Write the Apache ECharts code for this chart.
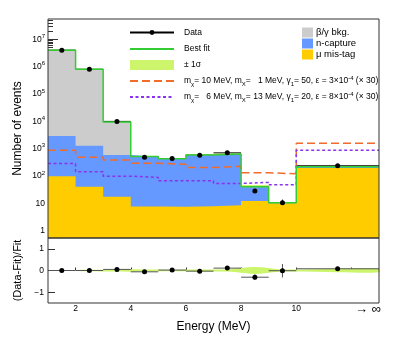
<!DOCTYPE html>
<html>
<head>
<meta charset="utf-8">
<script src="https://cdn.jsdelivr.net/npm/echarts@6/dist/echarts.min.js"></script>
<style>
html, body { margin: 0; padding: 0; background: #fff; }
#chart { width: 399px; height: 338px; }
</style>
</head>
<body>
<div id="chart"></div>
<script>
// bin edges in MeV, the last bin (10 -> inf) is drawn as 10-13
const binEdges = [1, 2, 3, 4, 5, 6, 7, 8, 9, 10, 13];
const binCenters = [1.5, 2.5, 3.5, 4.5, 5.5, 6.5, 7.5, 8.5, 9.5, 11.5];

const dataCounts = [4.0e6, 8.0e5, 1.0e4, 490, 440, 580, 710, 28.4, 10.6, 240];
const dataErr = [2000, 900, 100, 22, 21, 24, 27, 5.3, 3.3, 15];
const bestFit = [4.0e6, 8.0e5, 9500, 520, 432, 598, 640, 41, 10.7, 222];
const fitRelErr = [0.02, 0.03, 0.05, 0.05, 0.04, 0.05, 0.05, 0.16, 0.05, 0.08];

// background components (stacked)
const betaGamma = [3.997e6, 7.987e5, 8900, 12, 8, 10, 12, 2, 0.3, 7];
const nCapture = [2850, 1260, 580, 500, 416, 580, 619, 26.7, 0.2, 15];
const muMisTag = [100, 41, 17.6, 7.8, 7.6, 8, 8.7, 12.3, 10.2, 200];

// signal models (x 30)
const signalA = [880, 488, 388, 295, 270, 209, 228, 133, 122, 1585];
const signalB = [290, 145, 100, 90, 68, 68, 54, 59, 48, 880];

// lower panel
const ratio = [0, 0, 0.05, -0.06, 0.02, -0.03, 0.11, -0.31, -0.01, 0.08];
const ratioErr = [0.001, 0.001, 0.01, 0.045, 0.05, 0.04, 0.04, 0.13, 0.31, 0.065];

const logTicks = [1, 10, 1e2, 1e3, 1e4, 1e5, 1e6, 1e7];
const ratioTicks = [-1, 0, 1];
const energyTicks = [2, 4, 6, 8, 10, 12];
const energyLabels = [2, 4, 6, 8, 10, 12.6];

const sigAName = 'mχ= 10 MeV, mX=  1 MeV, γ₁= 50, ε = 3×10⁻⁴ (× 30)';
const sigBName = 'mχ=  6 MeV, mX= 13 MeV, γ₁= 20, ε = 8×10⁻⁴ (× 30)';
const legendRich = {};
legendRich[sigAName] = 'm{s|χ}= 10 MeV, m{s|X}=   1 MeV, γ{s|1}= 50, ε = 3×10{p|-4} (× 30)';
legendRich[sigBName] = 'm{s|χ}=   6 MeV, m{s|X}= 13 MeV, γ{s|1}= 20, ε = 8×10{p|-4} (× 30)';

const FONT = 'Liberation Sans, Arial, sans-serif';
const supStyle = { fontSize: 6, verticalAlign: 'top', fontFamily: FONT };
const subStyle = { fontSize: 6, verticalAlign: 'bottom', fontFamily: FONT };

function stepData(vals) {
  const pts = vals.map((v, i) => [binEdges[i], v]);
  pts.push([binEdges[vals.length], vals[vals.length - 1]]);
  return pts;
}

// stack tops
const muTop = muMisTag.slice();
const nTop = muMisTag.map((v, i) => v + nCapture[i]);
const betaTop = nTop.map((v, i) => v + betaGamma[i]);

// minor log ticks
const minorTicks = [];
for (let e = 0; e <= 7; e++) {
  for (let k = 2; k <= 9; k++) minorTicks.push(k * Math.pow(10, e));
}

// smoothed relative fit band for the lower panel: [x, -w, +w]
const ratioBand = [[1, -fitRelErr[0], fitRelErr[0]]]
  .concat(binCenters.map((x, i) => [x, -fitRelErr[i], fitRelErr[i]]))
  .concat([[13, -fitRelErr[9], fitRelErr[9]]]);

function renderErrBars(color) {
  return function (params, api) {
    const y = api.value(3);
    const a = api.coord([api.value(0), y]);
    const b = api.coord([api.value(1), y]);
    const up = api.coord([api.value(2), y + api.value(4)]);
    const dn = api.coord([api.value(2), y - api.value(4)]);
    return {
      type: 'group',
      children: [
        { type: 'line', shape: { x1: a[0], y1: a[1], x2: b[0], y2: b[1] }, style: { stroke: color, lineWidth: 1 } },
        { type: 'line', shape: { x1: up[0], y1: up[1], x2: dn[0], y2: dn[1] }, style: { stroke: color, lineWidth: 1 } }
      ]
    };
  };
}

function areaSeries(name, tops, color) {
  return {
    name: name, type: 'line', xAxisIndex: 0, yAxisIndex: 0,
    step: 'end', symbol: 'none', color: color,
    data: stepData(tops),
    lineStyle: { width: 0 },
    areaStyle: { color: color, opacity: 1, origin: 'start' }
  };
}

const chart = echarts.init(document.getElementById('chart'));

chart.setOption({
  animation: false,
  backgroundColor: '#fff',
  textStyle: { fontFamily: FONT },
  grid: [
    { left: 48, right: 20, top: 19, height: 219, show: true, z: 10, borderColor: '#333', borderWidth: 1, backgroundColor: 'transparent' },
    { left: 48, right: 20, top: 238, height: 65, show: true, z: 10, borderColor: '#333', borderWidth: 1, backgroundColor: 'transparent' }
  ],
  legend: [
    {
      data: [{ name: 'Data', lineStyle: { opacity: 1 } }],
      left: 129, top: 28, padding: 0, orient: 'vertical', selectedMode: false,
      itemWidth: 44, itemHeight: 6,
      textStyle: { fontSize: 8.5, color: '#000', fontFamily: FONT, padding: [0, 0, 0, 5] }
    },
    {
      data: [
        { name: 'Best fit', itemStyle: { opacity: 0 } },
        { name: '± 1σ', icon: 'rect', itemStyle: { color: '#ccf56b' } },
        { name: sigAName, itemStyle: { opacity: 0 } },
        { name: sigBName, itemStyle: { opacity: 0 } }
      ],
      left: 129, top: 43, padding: 0, orient: 'vertical', selectedMode: false,
      itemWidth: 44, itemHeight: 10, itemGap: 4,
      formatter: name => legendRich[name] || name,
      textStyle: { fontSize: 8.5, color: '#000', fontFamily: FONT, lineHeight: 12, padding: [0, 0, 0, 5], rich: { s: subStyle, p: supStyle } }
    },
    {
      data: [
        { name: 'β/γ bkg.', icon: 'rect', itemStyle: { color: '#cccccc' } },
        { name: 'n-capture', icon: 'rect', itemStyle: { color: '#6699ff' } },
        { name: 'μ mis-tag', icon: 'rect', itemStyle: { color: '#ffcc00' } }
      ],
      left: 302, top: 27, padding: 0, orient: 'vertical', selectedMode: false,
      itemWidth: 11, itemHeight: 10, itemGap: 0,
      textStyle: { fontSize: 9.5, color: '#000', fontFamily: FONT, lineHeight: 11, padding: [0, 0, 0, -2] }
    }
  ],
  xAxis: [
    {
      gridIndex: 0, type: 'value', min: 1, max: 13,
      axisLine: { show: false }, axisTick: { show: false }, axisLabel: { show: false }, splitLine: { show: false }
    },
    {
      gridIndex: 1, type: 'value', min: 1, max: 13,
      axisLine: { show: false }, splitLine: { show: false },
      axisTick: { inside: true, length: 3, customValues: energyTicks, lineStyle: { color: '#333' } },
      axisLabel: {
        customValues: energyLabels, fontSize: 8.5, color: '#000', margin: 1, lineHeight: 10,
        formatter: v => v > 12 ? '{inf|→ ∞}' : String(v),
        rich: { inf: { fontSize: 13, lineHeight: 10, fontFamily: FONT, color: '#000' } }
      },
      name: 'Energy (MeV)', nameLocation: 'middle', nameGap: 18,
      nameTextStyle: { fontSize: 12, color: '#000' }
    }
  ],
  yAxis: [
    {
      gridIndex: 0, type: 'log', position: 'left', min: 0.55, max: 5.5e7,
      axisLine: { show: false }, splitLine: { show: false },
      axisTick: { inside: true, length: 10, customValues: logTicks, lineStyle: { color: '#333' } },
      axisLabel: {
        customValues: logTicks, fontSize: 8.5, color: '#000', margin: 3, lineHeight: 12,
        formatter: v => {
          const e = Math.round(Math.log10(v));
          if (e === 0) return '1';
          if (e === 1) return '10';
          return '10{p|' + e + '}';
        },
        rich: { p: supStyle }
      },
      name: 'Number of events', nameLocation: 'middle', nameGap: 24, nameMoveOverlap: false,
      nameTextStyle: { fontSize: 12, color: '#000' }
    },
    {
      gridIndex: 0, type: 'log', position: 'left', min: 0.55, max: 5.5e7,
      axisLine: { show: false }, splitLine: { show: false }, axisLabel: { show: false },
      axisTick: { inside: true, length: 5, customValues: minorTicks, lineStyle: { color: '#333' } }
    },
    {
      gridIndex: 1, type: 'value', position: 'left', min: -1.5, max: 1.5,
      axisLine: { show: false }, splitLine: { show: false },
      axisTick: { inside: true, length: 7, customValues: ratioTicks, lineStyle: { color: '#333' } },
      axisLabel: {
        customValues: ratioTicks, fontSize: 8.5, color: '#000', margin: 4,
        formatter: v => v < 0 ? '−' + (-v) : String(v)
      },
      name: '(Data-Fit)/Fit', nameLocation: 'middle', nameGap: 25,
      nameTextStyle: { fontSize: 11, color: '#000' }
    }
  ],
  series: [
    areaSeries('β/γ bkg.', betaTop, '#cccccc'),
    areaSeries('n-capture', nTop, '#6699ff'),
    areaSeries('μ mis-tag', muTop, '#ffcc00'),
    {
      name: '± 1σ', type: 'custom', xAxisIndex: 0, yAxisIndex: 0,
      itemStyle: { color: '#ccf56b' },
      encode: { x: [0, 1], y: [2, 3] },
      data: bestFit.map((v, i) => [binEdges[i], binEdges[i + 1], v * (1 - fitRelErr[i]), v * (1 + fitRelErr[i])]),
      renderItem: (params, api) => {
        const p1 = api.coord([api.value(0), api.value(3)]);
        const p2 = api.coord([api.value(1), api.value(2)]);
        return { type: 'rect', shape: { x: p1[0], y: p1[1], width: p2[0] - p1[0], height: p2[1] - p1[1] }, style: { fill: '#ccf56b' } };
      }
    },
    {
      name: sigAName, type: 'line', xAxisIndex: 0, yAxisIndex: 0, step: 'end', symbol: 'none',
      color: '#f26b2a', data: stepData(signalA),
      lineStyle: { color: '#f26b2a', width: 1.5, type: [8, 4] }
    },
    {
      name: sigBName, type: 'line', xAxisIndex: 0, yAxisIndex: 0, step: 'end', symbol: 'none',
      color: '#8833ee', data: stepData(signalB),
      lineStyle: { color: '#8833ee', width: 1.5, type: [3, 2.5] }
    },
    {
      name: 'Best fit', type: 'line', xAxisIndex: 0, yAxisIndex: 0, step: 'end', symbol: 'none',
      color: '#33cc33', data: stepData(bestFit),
      lineStyle: { color: '#33cc33', width: 1.5 }
    },
    {
      name: 'Data bars', type: 'custom', xAxisIndex: 0, yAxisIndex: 0,
      encode: { x: [0, 1], y: 3 },
      data: dataCounts.map((v, i) => [binEdges[i], binEdges[i + 1], binCenters[i], v, dataErr[i]]),
      renderItem: renderErrBars('#111')
    },
    {
      name: 'Data', type: 'line', xAxisIndex: 0, yAxisIndex: 0,
      symbol: 'circle', symbolSize: 5, color: '#000',
      itemStyle: { color: '#000' },
      lineStyle: { color: '#000', width: 1, opacity: 0 },
      data: binCenters.map((x, i) => [x, dataCounts[i]])
    },
    // lower panel
    {
      name: 'ratio band', type: 'custom', xAxisIndex: 1, yAxisIndex: 2,
      encode: { x: 0, y: [1, 2] },
      data: ratioBand,
      renderItem: (params, api) => {
        if (params.dataIndex !== 0) return null;
        const up = ratioBand.map(p => api.coord([p[0], p[2]]));
        const dn = ratioBand.map(p => api.coord([p[0], p[1]])).reverse();
        return { type: 'polygon', shape: { points: up.concat(dn), smooth: 0.35 }, style: { fill: '#ccf56b' } };
      }
    },
    {
      name: 'ratio bars', type: 'custom', xAxisIndex: 1, yAxisIndex: 2,
      encode: { x: [0, 1], y: 3 },
      data: ratio.map((v, i) => [binEdges[i], binEdges[i + 1], binCenters[i], v, ratioErr[i]]),
      renderItem: renderErrBars('#555')
    },
    {
      name: 'ratio points', type: 'line', xAxisIndex: 1, yAxisIndex: 2,
      symbol: 'circle', symbolSize: 5, itemStyle: { color: '#000' },
      lineStyle: { opacity: 0 },
      data: binCenters.map((x, i) => [x, ratio[i]])
    }
  ]
});
</script>
</body>
</html>
